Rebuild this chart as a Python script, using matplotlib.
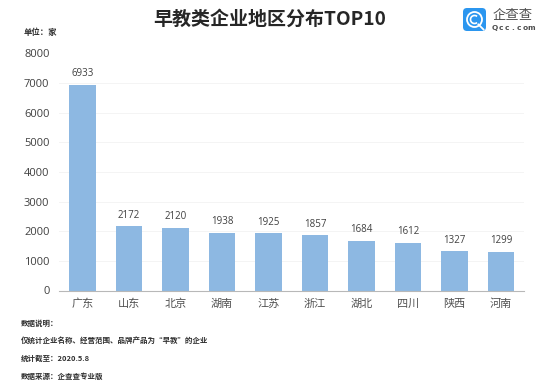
import matplotlib
matplotlib.use('Agg')
import matplotlib.pyplot as plt
from matplotlib.patches import FancyBboxPatch, Circle, Arc

plt.rcParams['font.family'] = ['Noto Sans CJK SC', 'DejaVu Sans']

regions = ['广东', '山东', '北京', '湖南', '江苏', '浙江', '湖北', '四川', '陕西', '河南']
counts = [6933, 2172, 2120, 1938, 1925, 1857, 1684, 1612, 1327, 1299]
y_ticks = [0, 1000, 2000, 3000, 4000, 5000, 6000, 7000, 8000]
notes = ['数据说明\uff1a', '仅统计企业名称、经营范围、品牌产品为“早教”的企业',
         '统计截至\uff1a2020.5.8', '数据来源\uff1a企查查专业版']
note_ys = [323, 340, 358, 376]

W, H = 554, 383
fig = plt.figure(figsize=(W / 100, H / 100), dpi=100)
ax = fig.add_axes([59.25 / W, 1 - 290.5 / H, 465 / W, 237 / H])

ax.bar(range(len(regions)), counts, width=0.56, color='#8db8e2', zorder=2)
for i, c in enumerate(counts):
    ax.text(i, c + 190, str(c), ha='center', va='bottom', fontsize=7, color='#404040',
            family='Open Sans')

ax.set_xlim(-0.5, 9.5)
ax.set_ylim(0, 8000)
ax.set_yticks(y_ticks)
ax.set_xticks(range(len(regions)))
ax.set_xticklabels(regions, fontsize=8, color='#505050')
ax.tick_params(axis='x', length=0, pad=6)
ax.tick_params(axis='y', length=0, pad=7, labelsize=8, labelcolor='#404040')
for lab in ax.get_yticklabels():
    lab.set_family('Open Sans')
ax.grid(axis='y', color='#f4f4f4', linewidth=0.7, zorder=0)
for side in ['top', 'left', 'right']:
    ax.spines[side].set_visible(False)
ax.spines['bottom'].set_color('#b8b8b8')
ax.spines['bottom'].set_linewidth(0.8)


def px(x, y):
    return x / W, 1 - y / H


fig.text(*px(269.5, 19.5), '早教类企业地区分布TOP10', ha='center', va='center',
         fontsize=13.7, fontweight='bold', color='#262626')
fig.text(*px(24, 32.7), '单位\uff1a家', ha='left', va='center', fontsize=6,
         fontweight='bold', color='#303030')
for y, s in zip(note_ys, notes):
    fig.text(*px(21, y), s, ha='left', va='center', fontsize=5.4,
             fontweight='bold', color='#303030')

# logo
logo = fig.add_axes([0, 0, 1, 1], facecolor='none')
logo.set_xlim(0, W)
logo.set_ylim(H, 0)
logo.axis('off')
logo.add_patch(FancyBboxPatch((463, 8), 23, 23, boxstyle='round,pad=0,rounding_size=4',
                              fc='#2b96ef', ec='none'))
logo.add_patch(Circle((474.5, 19.5), 7.5, fc='none', ec='white', lw=1.3))
logo.add_patch(Arc((474.5, 19.5), 8, 8, theta1=50, theta2=310, ec='white', lw=1.2))
logo.plot([478.5, 483.5], [24.5, 29.5], color='white', lw=1.3)
logo.text(512.5, 15, '企查查', ha='center', va='center', fontsize=9.6, color='#4d4d4d')
for k, ch in enumerate('Qcc.com'):
    logo.text(494.5 + k * 6.1, 27.7, ch, ha='center', va='center', fontsize=5.3,
              color='#4d4d4d', family='DejaVu Sans', fontweight='bold')

fig.savefig('out.png', dpi=100)
